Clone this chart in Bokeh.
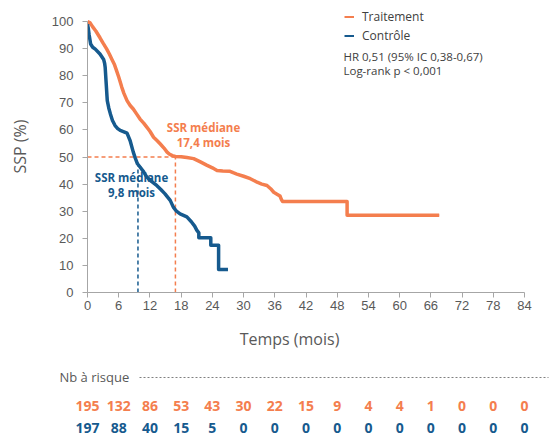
from bokeh.plotting import figure
from bokeh.layouts import column
from bokeh.models import Range1d, FixedTicker, Legend, LegendItem, ColumnDataSource
from bokeh.core.properties import value
from bokeh.embed import file_html
from bokeh.resources import INLINE

# ---------------- data ----------------
trt_t = [0, 0.5, 1.0, 1.6, 2.4, 3.0, 3.7, 4.2, 4.7, 5.2, 5.6, 6.0, 6.6, 7.0, 7.6, 8.2,
         8.8, 9.4, 10.1, 10.8, 11.4, 12.0, 12.7, 13.4, 14.0, 14.7, 15.3, 15.8, 16.3,
         16.9, 18.0, 19.1, 20.4, 21.7, 22.9, 24.0, 24.9, 26.0, 27.4, 28.0, 28.7, 30.0,
         31.3, 32.6, 33.5, 34.5, 35.2, 35.8, 36.5, 37.0, 37.3, 37.5, 49.9, 49.9, 67.6]
trt_s = [100, 99.5, 98, 96.5, 94, 92, 89.8, 88, 86, 84, 81.8, 79.5, 75.7, 73.5, 70.8, 69,
         67.7, 66, 64, 62.5, 61, 59.5, 57.3, 56, 54.8, 53.3, 51.8, 51, 50.5,
         50.2, 50.1, 49.8, 49.4, 48.2, 47, 46, 45, 44.8, 44.7, 44.2, 43.7, 42.9,
         42, 40.7, 40, 39.5, 38.3, 37, 36.2, 35.6, 34.2, 33.6, 33.6, 28.5, 28.5]

ctl_t = [0, 0.15, 0.3, 0.6, 1.0, 1.5, 2.4, 3.1, 3.3, 3.4, 3.6, 3.8, 4.1, 4.4, 4.8, 5.3,
         5.8, 6.3, 7.0, 7.6, 8.2, 8.8, 9.2, 9.6, 10.1, 10.8, 11.4, 12.3, 13.3, 14.1,
         14.9, 15.9, 16.5, 17.1, 17.8, 19.1, 20.0, 20.6, 21.0, 21.4, 21.4, 23.7, 23.7,
         25.2, 25.2, 27.0]
ctl_s = [99, 97.5, 95.3, 91.7, 90.5, 89.8, 88, 86, 84.5, 83, 76.9, 70.8, 68, 65.9, 63.5,
         61.6, 60.5, 59.8, 59.3, 58.8, 56, 51.8, 49.5, 47.5, 46.3, 44.5, 42.6, 41, 39.5,
         38, 36.4, 34, 31.5, 30, 29, 27.9, 26, 24.5, 23, 22, 20.2, 20.2, 17.4, 17.4,
         8.5, 8.5]

median_trt = 16.9
median_ctl = 9.7
median_trt_label = "17,4 mois"
median_ctl_label = "9,8 mois"

x_ticks = [0, 6, 12, 18, 24, 30, 36, 42, 48, 54, 60, 66, 72, 78, 84]
y_ticks = [0, 10, 20, 30, 40, 50, 60, 70, 80, 90, 100]
risk_times = [0, 6, 12, 18, 24, 30, 36, 42, 48, 54, 60, 66, 72, 78, 84]
risk_trt = [195, 132, 86, 53, 43, 30, 22, 15, 9, 4, 4, 1, 0, 0, 0]
risk_ctl = [197, 88, 40, 15, 5, 0, 0, 0, 0, 0, 0, 0, 0, 0, 0]

ORANGE = "#F47E4E"
BLUE = "#165A8E"
GRAY_AX = "#a6a6a6"
GRAY_TX = "#595959"
FONT = "Open Sans"

# ---------------- geometry ----------------
W, H = 559, 439
L, R = 87, 35
FRAME_BOTTOM = 292          # pixel row of y = 0
H_MAIN = 320
B = H_MAIN - FRAME_BOTTOM
PX_PER_PCT = 2.71           # 100 % spans 271 px
Y_TOP = FRAME_BOTTOM / PX_PER_PCT   # frame reaches the top of the canvas

# ---------------- main KM plot ----------------
p = figure(width=W, height=H_MAIN, output_backend="svg", toolbar_location=None,
           x_range=Range1d(0, 84), y_range=Range1d(0, Y_TOP),
           min_border_left=L, min_border_right=R, min_border_top=0, min_border_bottom=B)
p.outline_line_color = None
p.grid.visible = False
p.background_fill_color = "white"
p.border_fill_color = "white"
p.frame_align = False

for ax in (p.xaxis[0], p.yaxis[0]):
    ax.axis_line_color = GRAY_AX
    ax.major_tick_line_color = GRAY_AX
    ax.minor_tick_line_color = None
    ax.major_tick_in = 0
    ax.major_tick_out = 5
    ax.major_label_text_font = "Liberation Sans"
    ax.major_label_text_font_size = "13px"
    ax.major_label_text_color = GRAY_TX

p.xaxis.ticker = FixedTicker(ticks=x_ticks)
p.yaxis.ticker = FixedTicker(ticks=y_ticks)
p.yaxis.bounds = (0, 100)
p.xaxis.major_label_standoff = 3
p.yaxis.major_label_standoff = 9
p.yaxis.axis_label = "SSP (%)"
p.yaxis.axis_label_text_font = FONT
p.yaxis.axis_label_text_font_style = "normal"
p.yaxis.axis_label_text_font_size = "16px"
p.yaxis.axis_label_text_color = GRAY_TX
p.yaxis.axis_label_standoff = 18

# median dashed lines
p.line([0, median_trt], [50, 50], line_color=ORANGE, line_width=1.5, line_dash="4 3")
p.line([median_trt, median_trt], [0, 50], line_color=ORANGE, line_width=1.5, line_dash="4 3")
p.line([median_ctl, median_ctl], [0, 48], line_color=BLUE, line_width=1.5, line_dash="4 3")

# legend proxies (thin lines hidden under the thick curves)
lg_trt = p.line(trt_t, trt_s, line_color=ORANGE, line_width=2)
lg_ctl = p.line(ctl_t, ctl_s, line_color=BLUE, line_width=2)

p.line(trt_t, trt_s, line_color=ORANGE, line_width=3.5, line_join="round")
p.line(ctl_t, ctl_s, line_color=BLUE, line_width=3.5, line_join="round")

# median annotations
p.text(x=[22.3, 22.3], y=[60.9, 55.4], text=["SSR médiane", median_trt_label],
       text_color=ORANGE, text_font=value(FONT), text_font_style="bold",
       text_font_size="11.5px", text_align="center", text_baseline="middle")
p.text(x=[8.46, 8.46], y=[42.4, 36.9], text=["SSR médiane", median_ctl_label],
       text_color=BLUE, text_font=value(FONT), text_font_style="bold",
       text_font_size="11.5px", text_align="center", text_baseline="middle")

# HR text
p.text(x=[49.2, 49.2], y=[87.1, 81.9],
       text=["HR 0,51 (95% IC 0,38-0,67)", "Log-rank p < 0,001"],
       text_color="#404040", text_font=value(FONT), text_font_size="11.5px",
       text_align="left", text_baseline="middle")

legend = Legend(items=[LegendItem(label="Traitement", renderers=[lg_trt]),
                       LegendItem(label="Contrôle", renderers=[lg_ctl])],
                location=(344 - L, FRAME_BOTTOM - 44.5), padding=0, margin=0, spacing=0,
                glyph_width=10, glyph_height=19, label_height=19, label_standoff=8,
                label_text_font=FONT, label_text_font_size="12px",
                label_text_color="#404040", border_line_color=None,
                background_fill_alpha=0)
p.add_layout(legend, "center")

# ---------------- lower panel: x title + number at risk ----------------
H_LOW = H - H_MAIN
k = (W - L - R) / 84.0
q = figure(width=W, height=H_LOW, output_backend="svg", toolbar_location=None,
           x_range=Range1d(-L / k, 84 + R / k), y_range=Range1d(0, H_LOW),
           min_border_left=0, min_border_right=0, min_border_top=0, min_border_bottom=0,
           x_axis_location=None, y_axis_location=None)
q.outline_line_color = None
q.grid.visible = False
q.background_fill_color = "white"
q.border_fill_color = "white"
q.frame_align = False

def row_y(pixel):
    return H - pixel

q.text(x=[(289 - L) / k], y=[row_y(338)], text=["Temps (mois)"], text_color=GRAY_TX,
       text_font=value(FONT), text_font_size="16px", text_align="center",
       text_baseline="middle")
q.text(x=[(59 - L) / k], y=[row_y(376)], text=["Nb à risque"], text_color=GRAY_TX,
       text_font=value(FONT), text_font_size="13px", text_align="left",
       text_baseline="middle")
q.segment(x0=[(139 - L) / k], y0=[row_y(377)], x1=[(548 - L) / k], y1=[row_y(377)],
          line_color="#808080", line_width=1, line_dash="2 2")

src = ColumnDataSource(dict(t=risk_times, a=[str(v) for v in risk_trt],
                            b=[str(v) for v in risk_ctl]))
q.text(x="t", y=row_y(405), text="a", source=src, text_color=ORANGE, text_font=value(FONT),
       text_font_style="bold", text_font_size="14px", text_align="center",
       text_baseline="middle")
q.text(x="t", y=row_y(427), text="b", source=src, text_color=BLUE, text_font=value(FONT),
       text_font_style="bold", text_font_size="14px", text_align="center",
       text_baseline="middle")

layout = column(p, q, spacing=0)
open("out.html", "w").write(file_html(layout, INLINE))
